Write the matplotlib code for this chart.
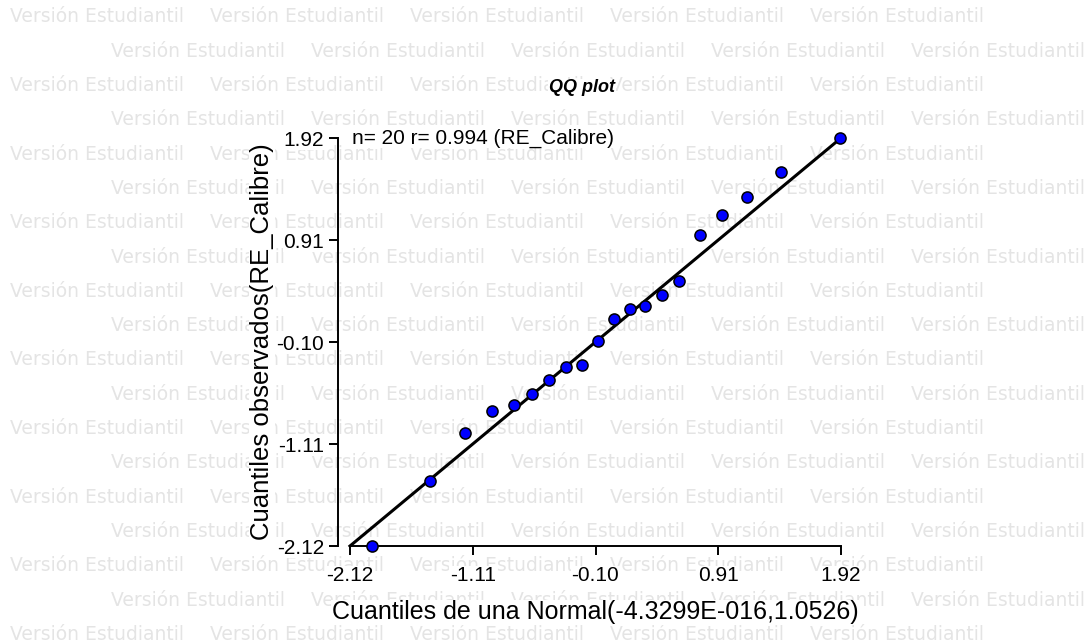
import matplotlib
matplotlib.use("Agg")
import matplotlib.pyplot as plt

# ---- data ----
theoretical_q = [-1.94, -1.46, -1.17, -0.95, -0.77, -0.62, -0.48, -0.34, -0.21, -0.08,
                 0.05, 0.18, 0.31, 0.45, 0.59, 0.76, 0.94, 1.15, 1.43, 1.91]
observed_q = [-2.12, -1.48, -1.00, -0.78, -0.72, -0.61, -0.48, -0.35, -0.33, -0.09,
              0.13, 0.23, 0.26, 0.37, 0.50, 0.96, 1.16, 1.34, 1.58, 1.92]
line_x = [-2.12, 1.92]
line_y = [-2.12, 1.92]
tick_values = [-2.12, -1.11, -0.10, 0.91, 1.92]
tick_labels = ["-2.12", "-1.11", "-0.10", "0.91", "1.92"]

title = "QQ plot"
annotation = "n= 20 r= 0.994 (RE_Calibre)"
xlabel = "Cuantiles de una Normal(-4.3299E-016,1.0526)"
ylabel = "Cuantiles observados(RE_Calibre)"
watermark = "Versión Estudiantil"

W, H = 1090, 642
fig = plt.figure(figsize=(W / 100, H / 100), dpi=100)
fig.patch.set_facecolor("white")

# watermark rows
n_rows = 19
for r in range(n_rows):
    yc = 17 + r * 34.3
    x0 = 10 if r % 2 == 0 else 111
    for k in range(5):
        fig.text((x0 + k * 200) / W, 1 - yc / H, watermark, fontsize=13.5,
                 family="DejaVu Sans", color="#e4e4e4", ha="left", va="center",
                 zorder=0)

ax = fig.add_axes([350 / W, (H - 546) / H, 491 / W, 408 / H])
ax.set_zorder(1)
ax.patch.set_visible(False)
ax.set_xlim(-2.12, 1.92)
ax.set_ylim(-2.12, 1.92)

for s in ("top", "right"):
    ax.spines[s].set_visible(False)
ax.spines["left"].set_position(("outward", 9))
for s in ("left", "bottom"):
    ax.spines[s].set_linewidth(1.4)

ax.plot(line_x, line_y, color="black", lw=2.2, zorder=3, clip_on=False)
ax.plot(theoretical_q, observed_q, linestyle="none", marker="o", ms=8,
        mfc="#0000ff", mec="black", mew=1.1, zorder=4, clip_on=False)

ax.set_xticks(tick_values)
ax.set_xticklabels(tick_labels)
ax.set_yticks(tick_values)
ax.set_yticklabels(tick_labels)
ax.tick_params(direction="out", length=6.5, width=1.4, labelsize=15)
ax.tick_params(axis="x", pad=8)
ax.tick_params(axis="y", pad=3)
font = "Liberation Sans"
for lab in ax.get_xticklabels() + ax.get_yticklabels():
    lab.set_family(font)
    lab.set_bbox(dict(facecolor="white", edgecolor="none", pad=0.5))

ax.set_xlabel(xlabel, family=font, fontsize=18, labelpad=11,
              bbox=dict(facecolor="white", edgecolor="none", pad=0.5))
ax.set_ylabel(ylabel, family=font, fontsize=18.5, labelpad=2,
              bbox=dict(facecolor="white", edgecolor="none", pad=0.5))

ax.text(-2.10, 1.92, annotation, family=font, fontsize=15, ha="left", va="center",
        bbox=dict(facecolor="white", edgecolor="none", pad=0.5), zorder=5)
fig.text(582 / W, 1 - 88 / H, title, family=font, fontsize=13, fontweight="bold",
         fontstyle="italic", ha="center", va="center", zorder=2,
         bbox=dict(facecolor="white", edgecolor="none", pad=0.5))

fig.savefig("out.png", dpi=100, facecolor="white")
